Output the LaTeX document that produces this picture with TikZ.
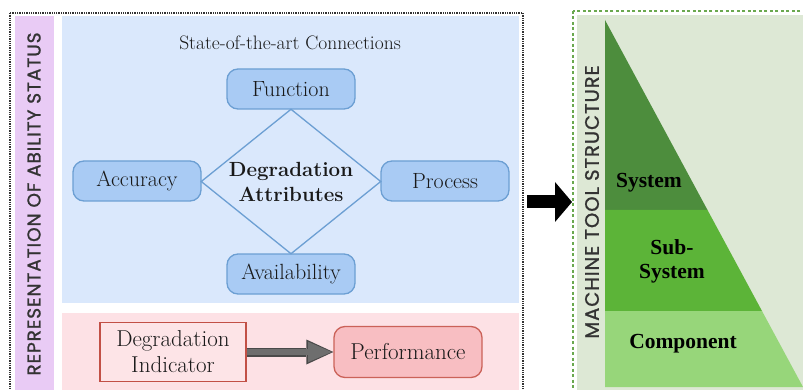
\documentclass[tikz,border=0pt]{standalone}
\usepackage{fontspec}
\usetikzlibrary{positioning, arrows.meta, shapes.geometric}
\newfontfamily\capsfont[LetterSpace=5, FakeBold=1.2]{Poppins}
\newfontfamily\timesfont{Liberation Serif}

\definecolor{lilac}{HTML}{E9CBF5}
\definecolor{bluepanel}{HTML}{DAE8FC}
\definecolor{attrfill}{HTML}{A9CBF4}
\definecolor{attrline}{HTML}{6C9FD3}
\definecolor{pinkpanel}{HTML}{FDE1E5}
\definecolor{indfill}{HTML}{FDE4E7}
\definecolor{redline}{HTML}{C25046}
\definecolor{perffill}{HTML}{F8BEC2}
\definecolor{perfline}{HTML}{CB6259}
\definecolor{graydark}{HTML}{4A4A4A}
\definecolor{grayfill}{HTML}{6E6E6E}
\definecolor{greenpanel}{HTML}{DDE8D5}
\definecolor{greenline}{HTML}{6AA84F}
\definecolor{sysgreen}{HTML}{4D8D3D}
\definecolor{subgreen}{HTML}{5CB438}
\definecolor{compgreen}{HTML}{97D67A}

\tikzset{
  txt/.style={font=\fontsize{22}{26}\selectfont, text=black!90, align=center},
  attr/.style={txt, draw=attrline, fill=attrfill, line width=1.3pt, rounded corners=11pt,
    minimum width=128pt, minimum height=40pt, inner sep=0pt},
  diam/.style={diamond, draw=attrline, line width=1.3pt, inner sep=0pt,
    minimum width=180pt, minimum height=145pt},
  indbox/.style={txt, draw=redline, fill=indfill, line width=1.3pt, font=\fontsize{23}{26}\selectfont,
    minimum width=146pt, minimum height=59pt, inner sep=0pt},
  perfbox/.style={txt, draw=perfline, fill=perffill, line width=1.3pt, rounded corners=11pt,
    font=\fontsize{23}{26}\selectfont, minimum width=148pt, minimum height=51pt, inner sep=0pt},
  layer/.style={font=\timesfont\bfseries\fontsize{21.5}{24}\selectfont, align=center},
  sidelabel/.style={rotate=90, text=black!80, inner sep=0pt}
}

\begin{document}
\begin{tikzpicture}[x=1pt, y=-1pt]
    \useasboundingbox (0,0) rectangle (803,390);
    \fill[white] (0,0) rectangle (803,390);

    % ability status
    \draw[densely dotted, line width=1.3pt, black!80] (10,13) rectangle (523,400);
    \fill[lilac] (15,16) rectangle (54,400);
    \fill[bluepanel] (62,16) rectangle (519,303);
    \fill[pinkpanel] (62,313) rectangle (519,400);
    \node[sidelabel, font=\capsfont\fontsize{18.5}{18.5}\selectfont] (ability) at (34,204) {REPRESENTATION OF ABILITY STATUS};

    \node[txt, font=\fontsize{19.5}{22}\selectfont] (title) at (290,43) {State-of-the-art Connections};
    \node[attr] (func) at (291,89) {Function};
    \node[attr] (acc) at (137,181) {Accuracy};
    \node[attr] (proc) at (445,181) {Process};
    \node[attr] (avail) at (291,274) {Availability};
    \node[diam, label={[txt, font=\fontsize{20.5}{25}\selectfont\bfseries]center:Degradation\\Attributes}] (core) at (291,181.5) {};

    \node[indbox] (ind) at (173,352) {Degradation\\Indicator};
    \node[perfbox] (perf) at (408,352) {Performance};
    \draw[line width=9pt, graydark, -{Triangle[length=27pt, width=25pt, line width=0pt]}] (ind) -- (perf);
    \draw[line width=6.5pt, grayfill, shorten >=1.8pt, -{Triangle[length=23.5pt, width=20.5pt, line width=0pt]}] (ind) -- (perf);

    \coordinate (outE) at (527,202);
    \coordinate (strW) at (572,202);
    \draw[line width=13pt, black, -{Triangle[length=17pt, width=40pt, line width=0pt]}] (outE) -- (strW);

    % machine tool structure
    \draw[greenline, line width=1.2pt, dash pattern=on 3pt off 2.5pt] (573,11) rectangle (820,400);
    \fill[greenpanel] (577,15) rectangle (803,400);
    \node[sidelabel, font=\capsfont\fontsize{19.5}{19.5}\selectfont] (mts) at (592,202) {MACHINE TOOL STRUCTURE};

    \fill[sysgreen] (605,20) -- (707.5,210) -- (605,210) -- cycle;
    \fill[subgreen] (605,210) -- (707.5,210) -- (762,311) -- (605,311) -- cycle;
    \fill[compgreen] (605,311) -- (762,311) -- (803,387) -- (605,387) -- cycle;
    \node[layer] (sys) at (649,183) {System};
    \node[layer] (sub) at (672,261) {Sub-\\System};
    \node[layer] (comp) at (683,344) {Component};
\end{tikzpicture}
\end{document}
